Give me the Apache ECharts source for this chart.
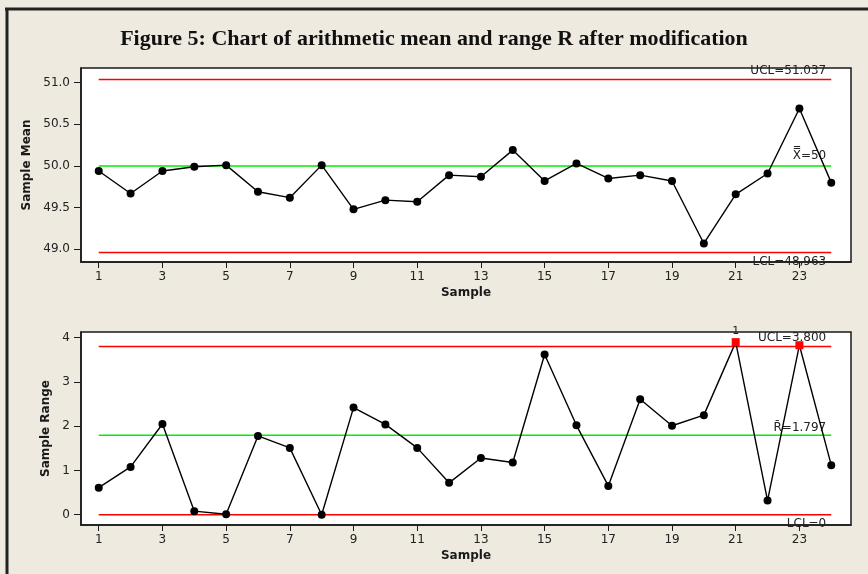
<!DOCTYPE html>
<html>
<head>
<meta charset="utf-8">
<script src="https://cdn.jsdelivr.net/npm/echarts@6/dist/echarts.min.js"></script>
<style>
  html, body { margin: 0; padding: 0; background: #eeeae0; }
  #chart { width: 868px; height: 574px; }
</style>
</head>
<body>
<div id="chart"></div>
<script>
// Samples 1..24
const samples = [1, 2, 3, 4, 5, 6, 7, 8, 9, 10, 11, 12, 13, 14, 15, 16, 17, 18, 19, 20, 21, 22, 23, 24];
const sampleTicks = [1, 3, 5, 7, 9, 11, 13, 15, 17, 19, 21, 23];

// Subgroup means (X-bar chart)
const meanValues = [49.94, 49.67, 49.94, 49.99, 50.01, 49.69, 49.62, 50.01, 49.48, 49.59, 49.57, 49.89,
                    49.87, 50.19, 49.82, 50.03, 49.85, 49.89, 49.82, 49.07, 49.66, 49.91, 50.69, 49.80];
const meanTicks = [49.0, 49.5, 50.0, 50.5, 51.0];
const meanUCL = 51.037, meanCL = 50, meanLCL = 48.963;

// Subgroup ranges (R chart)
const rangeValues = [0.61, 1.08, 2.05, 0.08, 0.01, 1.78, 1.51, 0.0, 2.42, 2.04, 1.51, 0.72,
                     1.28, 1.18, 3.62, 2.02, 0.65, 2.61, 2.01, 2.25, 3.90, 0.32, 3.83, 1.12];
const rangeTicks = [0, 1, 2, 3, 4];
const rangeUCL = 3.800, rangeCL = 1.797, rangeLCL = 0;

// Test-failure flags printed above points (sample -> test number)
const rangeTestLabels = { 21: '1' };

const FONT = 'DejaVu Sans';
const INK = '#1a1a1a';

function xAxisFor(gridIndex) {
  return {
    type: 'value', gridIndex, min: 0.443, max: 24.62,
    name: 'Sample', nameLocation: 'middle', nameGap: 25,
    nameTextStyle: { fontFamily: FONT, fontWeight: 'bold', fontSize: 12, color: INK },
    axisLine: { show: true, onZero: false, lineStyle: { color: INK, width: 1.5 } },
    axisTick: { show: true, length: 6, lineStyle: { color: INK }, customValues: sampleTicks },
    axisLabel: { show: true, margin: 9, fontFamily: FONT, fontSize: 12, color: '#222', customValues: sampleTicks },
    splitLine: { show: false }
  };
}

function yAxisFor(gridIndex, min, max, ticks, name, gap, digits) {
  return {
    type: 'value', gridIndex, min, max,
    name, nameLocation: 'middle', nameRotate: 90, nameGap: gap,
    nameTextStyle: { fontFamily: FONT, fontWeight: 'bold', fontSize: 12, color: INK },
    axisLine: { show: true, onZero: false, lineStyle: { color: INK, width: 1.5 } },
    axisTick: { show: true, length: 7, lineStyle: { color: INK }, customValues: ticks },
    axisLabel: { show: true, margin: 11, fontFamily: FONT, fontSize: 12, color: '#222',
                 customValues: ticks, formatter: v => v.toFixed(digits) },
    splitLine: { show: false }
  };
}

function limitLine(idx, value, color, text, pos, dist) {
  return {
    type: 'line', xAxisIndex: idx, yAxisIndex: idx, silent: true, z: 2,
    symbol: 'circle', symbolSize: 1, showSymbol: true,
    itemStyle: { color: 'rgba(0,0,0,0)' },
    lineStyle: { color, width: 1.5 },
    data: [
      { value: [samples[0], value], label: { show: false } },
      { value: [samples[samples.length - 1], value],
        label: { show: true, position: pos, distance: dist, align: 'right', offset: [-5, 0],
                 formatter: text, fontFamily: FONT, fontSize: 12, color: '#222' } }
    ]
  };
}

function pointData(values, ucl, lcl, testLabels) {
  return values.map((v, i) => {
    const s = samples[i];
    const out = v > ucl || v < lcl;
    const item = { value: [s, v] };
    if (out) {
      item.symbol = 'rect';
      item.symbolSize = 8;
      item.itemStyle = { color: '#ff0000' };
    }
    if (testLabels && testLabels[s]) {
      item.label = { show: true, position: 'top', distance: 1, formatter: testLabels[s],
                     fontFamily: FONT, fontSize: 11, color: '#222' };
    }
    return item;
  });
}

function dataSeries(idx, values, ucl, lcl, testLabels) {
  return {
    type: 'line', xAxisIndex: idx, yAxisIndex: idx, z: 5,
    symbol: 'circle', symbolSize: 8,
    itemStyle: { color: '#000' },
    lineStyle: { color: '#000', width: 1.4 },
    label: { show: false },
    data: pointData(values, ucl, lcl, testLabels)
  };
}

const chart = echarts.init(document.getElementById('chart'), null, { renderer: 'canvas' });
chart.setOption({
  backgroundColor: '#eeeae0',
  animation: false,
  title: {
    text: 'Figure 5: Chart of arithmetic mean and range R after modification',
    left: 'center', top: 23,
    textStyle: { fontFamily: 'Liberation Serif', fontWeight: 'bold', fontSize: 22, color: '#111' }
  },
  graphic: [
    { type: 'line', shape: { x1: 5, y1: 9, x2: 868, y2: 9 }, style: { stroke: '#222', lineWidth: 3 }, z: 100 },
    { type: 'line', shape: { x1: 7, y1: 8, x2: 7, y2: 574 }, style: { stroke: '#222', lineWidth: 3 }, z: 100 }
  ],
  grid: [
    { left: 81, top: 68, width: 770, height: 194, show: true, backgroundColor: '#fff', borderColor: INK, borderWidth: 1.5 },
    { left: 81, top: 332, width: 770, height: 193, show: true, backgroundColor: '#fff', borderColor: INK, borderWidth: 1.5 }
  ],
  xAxis: [xAxisFor(0), xAxisFor(1)],
  yAxis: [
    yAxisFor(0, 48.848, 51.175, meanTicks, 'Sample Mean', 42, 1),
    yAxisFor(1, -0.233, 4.129, rangeTicks, 'Sample Range', 23, 0)
  ],
  series: [
    limitLine(0, meanUCL, '#ff0000', 'UCL=' + meanUCL.toFixed(3), 'top', 2),
    limitLine(0, meanCL, '#00ee00', 'X\u033F=' + meanCL, 'top', 4),
    limitLine(0, meanLCL, '#ff0000', 'LCL=48,963', 'bottom', 3),
    dataSeries(0, meanValues, meanUCL, meanLCL, null),
    limitLine(1, rangeUCL, '#ff0000', 'UCL=' + rangeUCL.toFixed(3), 'top', 2),
    limitLine(1, rangeCL, '#00ee00', 'R\u0304=' + rangeCL.toFixed(3), 'top', 1),
    limitLine(1, rangeLCL, '#ff0000', 'LCL=' + rangeLCL, 'bottom', 3),
    dataSeries(1, rangeValues, rangeUCL, rangeLCL, rangeTestLabels)
  ]
});
</script>
</body>
</html>
